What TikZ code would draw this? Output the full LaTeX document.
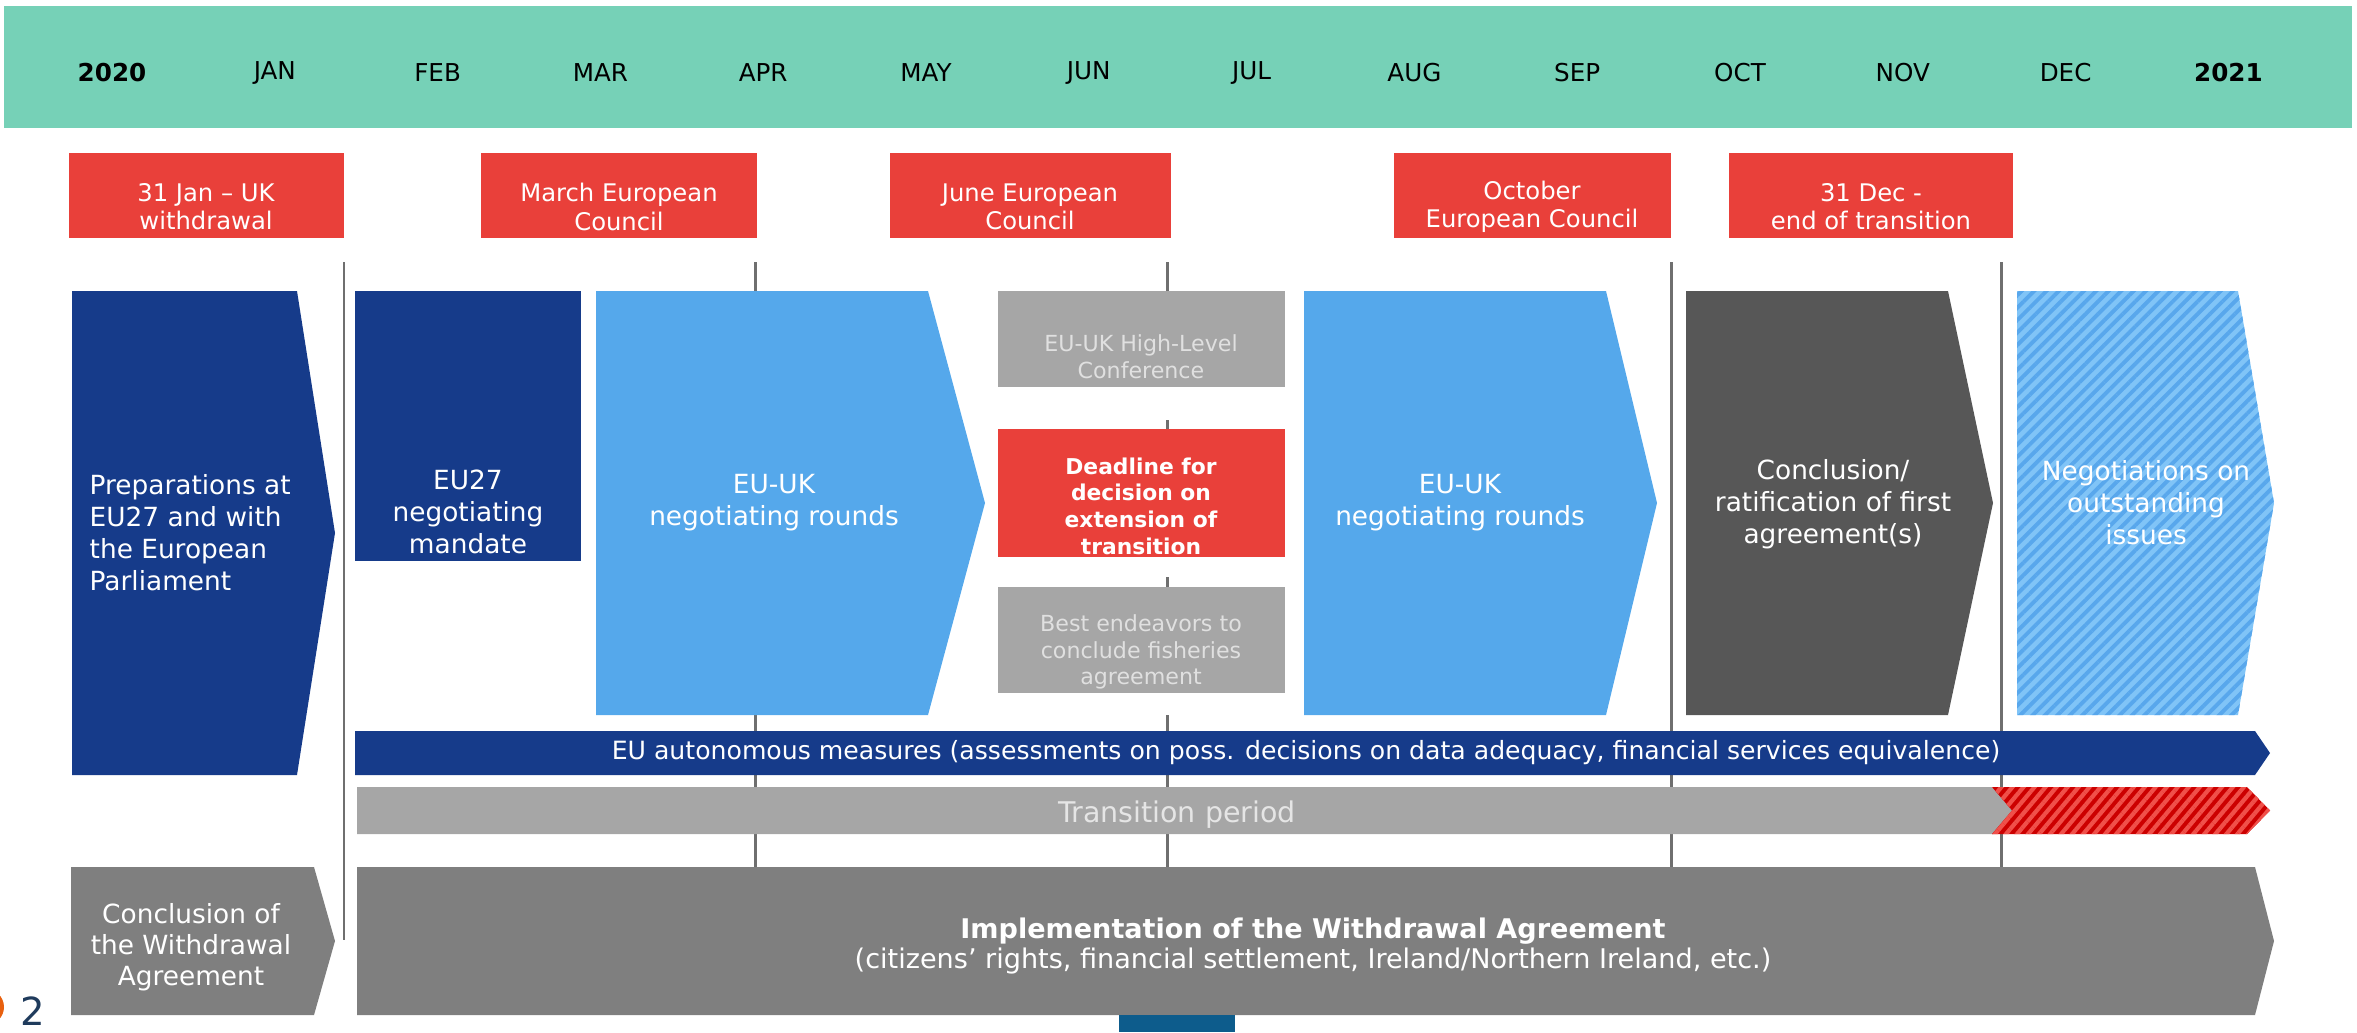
\documentclass[tikz,border=0pt]{standalone}
\usepackage{fontspec}
\setmainfont{DejaVu Sans}
\usetikzlibrary{patterns.meta}

\definecolor{bandgreen}{HTML}{76D1B7}
\definecolor{evred}{HTML}{E9403A}
\definecolor{eudark}{HTML}{163B8A}
\definecolor{eulight}{HTML}{55A8EB}
\definecolor{boxgray}{HTML}{A6A6A6}
\definecolor{boxdark}{HTML}{575757}
\definecolor{implgray}{HTML}{7F7F7F}
\definecolor{linegray}{HTML}{6F6F6F}
\definecolor{hatchblue}{HTML}{80C4F7}
\definecolor{stripeblue}{HTML}{58A7EC}
\definecolor{hatchred}{HTML}{CC0000}
\definecolor{stripered}{HTML}{F0504A}
\definecolor{pagegray}{HTML}{1F3B5C}
\definecolor{pageorange}{HTML}{E8600F}
\definecolor{pageteal}{HTML}{0D5C8C}

\begin{document}
\begin{tikzpicture}[x=0.01cm,y=-0.01cm,
  every node/.style={inner sep=0pt},
  monthlbl/.style={font=\fontsize{7}{8}\selectfont, text=black},
  evtxt/.style={font=\fontsize{6.9}{8}\selectfont, text=white, align=center},
  boxtxt/.style={font=\fontsize{7.5}{9.1}\selectfont, text=white, align=center},
  smalltxt/.style={font=\fontsize{6.3}{7.6}\selectfont, text=white!88!black, align=center},
  deadtxt/.style={font=\fontsize{6.2}{7.6}\selectfont\bfseries, text=white, align=center},
  bartxt/.style={font=\fontsize{7.15}{8.5}\selectfont, text=white},
  vline/.style={linegray, line width=0.85pt}]

\useasboundingbox (0,0) rectangle (2357,1032);

% months
\fill[bandgreen] (4,6) rectangle (2352,128);
\foreach \lbl [count=\i from 0] in {\textbf{2020},JAN,FEB,MAR,APR,MAY,JUN,JUL,AUG,SEP,OCT,NOV,DEC,\textbf{2021}}
  \node[monthlbl] (month\i) at (112+162.8*\i,73) {\lbl};

% events
\fill[evred] (69,153) rectangle (344,238);
\node[evtxt] (evjan) at (206,207) {31 Jan \textendash{} UK\\withdrawal};
\fill[evred] (481,153) rectangle (757,238);
\node[evtxt] (evmar) at (619,207) {March European\\Council};
\fill[evred] (890,153) rectangle (1171,238);
\node[evtxt] (evjun) at (1030,207) {June European\\Council};
\fill[evred] (1394,153) rectangle (1671,238);
\node[evtxt] (evoct) at (1532,207) {October\\European Council};
\fill[evred] (1729,153) rectangle (2013,238);
\node[evtxt] (evdec) at (1871,207) {31 Dec -\\end of transition};

% month lines
\draw[vline] (344,262) -- (344,940);
\foreach \x in {755,1671,2001}
  \draw[vline] (\x,262) -- (\x,867);
\draw[vline] (1167,262) -- (1167,291) (1167,420) -- (1167,429)
  (1167,577) -- (1167,587) (1167,715) -- (1167,867);

% phases
\fill[eudark] (72,291) -- (297,291) -- (335,533) -- (297,775) -- (72,775) -- cycle;
\node[boxtxt, anchor=west, align=left] (prep) at (89,533) {Preparations at\\EU27 and with\\the European\\Parliament};

\fill[eudark] (355,291) rectangle (581,561);
\node[boxtxt] (mandate) at (468,512) {EU27\\negotiating\\mandate};

\fill[eulight] (596,291) -- (928,291) -- (985,503) -- (928,715) -- (596,715) -- cycle;
\node[boxtxt] (roundsa) at (774,503) {EU-UK\\negotiating rounds};

\fill[boxgray] (998,291) rectangle (1285,387);
\node[smalltxt] (conf) at (1141,357) {EU-UK High-Level\\Conference};
\fill[evred] (998,429) rectangle (1285,557);
\node[deadtxt] (deadline) at (1141,506) {Deadline for\\decision on\\extension of\\transition};
\fill[boxgray] (998,587) rectangle (1285,693);
\node[smalltxt] (fish) at (1141,652) {Best endeavors to\\conclude fisheries\\agreement};

\fill[eulight] (1304,291) -- (1606,291) -- (1657,503) -- (1606,715) -- (1304,715) -- cycle;
\node[boxtxt] (roundsb) at (1460,503) {EU-UK\\negotiating rounds};

\fill[boxdark] (1686,291) -- (1948,291) -- (1993,503) -- (1948,715) -- (1686,715) -- cycle;
\node[boxtxt] (ratif) at (1833,504) {Conclusion/\\ratification of first\\agreement(s)};

\fill[hatchblue] (2017,291) -- (2238,291) -- (2274,503) -- (2238,715) -- (2017,715) -- cycle;
\fill[pattern={Lines[angle=45,distance=2.5pt,line width=1.1pt]}, pattern color=stripeblue]
  (2017,291) -- (2238,291) -- (2274,503) -- (2238,715) -- (2017,715) -- cycle;
\node[boxtxt] (outst) at (2146,503) {Negotiations on\\outstanding\\issues};

% bars
\fill[eudark] (355,731) -- (2255,731) -- (2270,753) -- (2255,775) -- (355,775) -- cycle;
\node[bartxt] (measures) at (1306,753) {EU autonomous measures (assessments on poss. decisions on data adequacy, financial services equivalence)};

\fill[boxgray] (357,787) -- (1993,787) -- (2012,810.5) -- (1993,834) -- (357,834) -- cycle;
\node[bartxt, font=\fontsize{8.1}{9}\selectfont, text=white!90!black] (transition) at (1177,815) {Transition period};

\fill[hatchred] (1992,787) -- (2247,787) -- (2270,810.5) -- (2247,834) -- (1992,834) -- (2012,810.5) -- cycle;
\fill[pattern={Lines[angle=50,distance=2.4pt,line width=1.2pt]}, pattern color=stripered]
  (1992,787) -- (2247,787) -- (2270,810.5) -- (2247,834) -- (1992,834) -- (2012,810.5) -- cycle;

% withdrawal agreement
\fill[implgray] (71,867) -- (314,867) -- (335,941) -- (314,1015) -- (71,1015) -- cycle;
\node[boxtxt, font=\fontsize{7.5}{8.8}\selectfont] (concl) at (191,947) {Conclusion of\\the Withdrawal\\Agreement};

\fill[implgray] (357,867) -- (2255,867) -- (2274,941) -- (2255,1015) -- (357,1015) -- cycle;
\node[boxtxt, font=\fontsize{7.7}{8.8}\selectfont] (impl) at (1313,946) {\textbf{Implementation of the Withdrawal Agreement}\\(citizens’ rights, financial settlement, Ireland/Northern Ireland, etc.)};

% slide leftovers
\fill[pageorange] (-14,1007) circle (18);
\node[font=\fontsize{11}{12}\selectfont, text=pagegray] (pagenum) at (33,1011) {2};
\fill[pageteal] (1119,1015) rectangle (1235,1032);

\end{tikzpicture}
\end{document}
